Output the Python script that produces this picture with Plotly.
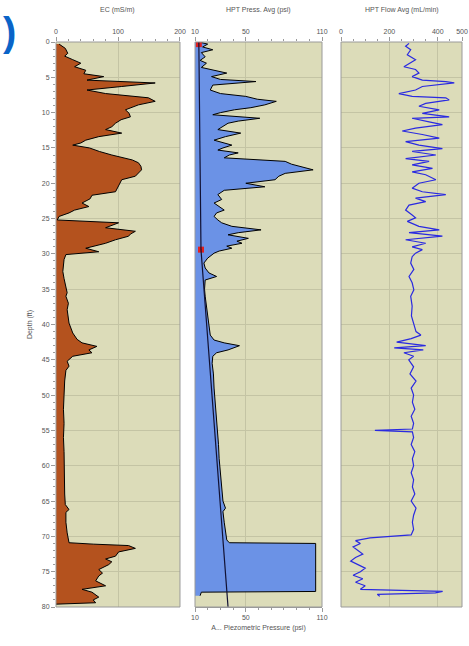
import plotly.graph_objects as go

# ---------------- data ----------------
ec_depth = [0.3, 0.9, 1.6, 2.0, 2.5, 3.0, 3.5, 4.0, 4.5, 4.9, 5.4, 5.8, 6.3, 6.8, 7.3, 7.9, 8.4, 8.9,
            9.6, 10.1, 10.6, 11.0, 11.5, 12.0, 12.4, 12.9, 13.4, 13.9, 14.3, 14.6, 15.0, 15.5, 16.0,
            16.7, 17.1, 17.6, 18.1, 18.6, 19.0, 19.5, 20.3, 20.8, 21.2, 21.7, 22.2, 22.8, 23.3, 23.8,
            24.2, 24.7, 25.2, 25.6, 26.0, 26.3, 26.8, 27.2, 27.5, 28.0, 28.5, 29.2, 29.7, 30.1, 30.8,
            31.5, 32.5, 33.5, 34.5, 35.5, 36.0, 37.0, 37.9, 39.0, 39.8, 40.5, 41.2, 42.1, 42.6, 43.1,
            43.6, 44.0, 44.5, 45.2, 45.9, 46.5, 48.0, 50.0, 52.0, 54.0, 56.0, 58.0, 60.0, 62.4, 64.0,
            65.5, 66.2, 66.6, 68.0, 69.5, 70.5, 70.9, 71.1, 71.3, 71.7, 72.2, 72.8, 73.2, 73.6, 74.0,
            74.7, 75.2, 75.6, 76.3, 77.0, 77.5, 77.9, 78.6, 79.0, 79.4, 79.6]
ec_value = [5, 15, 19, 14, 27, 40, 30, 48, 45, 77, 50, 160, 106, 50, 80, 149, 160, 133,
            112, 118, 120, 105, 96, 90, 80, 106, 69, 48, 40, 27, 54, 70, 90,
            123, 133, 137, 138, 132, 128, 106, 101, 98, 96, 58, 55, 42, 53, 30,
            21, 5, 2, 101, 90, 80, 128, 120, 117, 96, 80, 48, 69, 16, 13,
            12, 11, 13, 15, 18, 16, 20, 18, 20, 21, 24, 27, 34, 42, 66,
            53, 58, 27, 18, 21, 16, 14, 13, 12, 13, 12, 13, 13, 14, 14,
            15, 21, 16, 16, 18, 20, 21, 60, 117, 128, 101, 96, 80, 90, 85,
            69, 75, 69, 64, 80, 42, 58, 69, 60, 64, 0]

pr_depth = [0.0, 0.3, 0.7, 1.1, 1.5, 2.1, 2.6, 3.0, 3.6, 4.4, 4.9, 5.3, 5.6, 6.1, 6.8, 7.3, 7.7, 8.1,
            8.4, 8.9, 9.3, 9.6, 10.0, 10.3, 10.8, 11.2, 11.5, 12.0, 12.4, 12.9, 13.4, 13.9, 14.3,
            14.6, 15.0, 15.3, 15.7, 16.0, 16.4, 16.9, 17.3, 17.6, 18.1, 18.6, 19.0, 19.5, 20.0,
            20.5, 21.0, 21.6, 22.3, 22.8, 23.3, 23.8, 24.2, 24.7, 25.2, 25.6, 26.1, 26.6, 27.0,
            27.3, 27.8, 28.2, 28.5, 28.9, 29.2, 29.6, 29.9, 30.3, 30.6, 31.3, 32.0, 32.7, 33.2,
            33.7, 35.0, 36.0, 37.5, 39.3, 40.5, 41.5, 42.2, 42.6, 43.0, 43.3, 43.6, 44.0, 44.5,
            45.5, 47.0, 49.0, 51.0, 53.0, 55.0, 57.0, 59.0, 61.0, 63.0, 65.0, 66.0, 66.5, 68.0,
            69.5, 70.5, 70.9, 71.0, 77.8, 77.9, 78.4]
pr_value = [13, 20, 16, 24, 15, 18, 14, 19, 15, 35, 23, 30, 58, 24, 22, 30, 50, 59,
            74, 65, 54, 41, 30, 24, 61, 44, 36, 32, 28, 46, 34, 25, 32,
            39, 32, 28, 44, 37, 33, 81, 86, 92, 103, 81, 76, 73, 50,
            65, 33, 28, 31, 25, 29, 33, 27, 25, 28, 31, 39, 62, 44,
            36, 52, 43, 47, 35, 39, 29, 25, 22, 20, 17, 18, 21, 27,
            18, 17.5, 18, 19, 20, 21, 22, 25, 33, 45, 40, 36, 27, 24,
            23.5, 24.5, 25, 26, 27, 27.5, 28.5, 29, 30, 31, 32, 34, 32, 33,
            34, 35, 37, 105, 105, 15, 14]

piezo_depth = [0, 29.4, 80]
piezo_value = [13, 14.7, 36]

mark_depth = [0.3, 29.4]
mark_value = [13, 14.7]

fl_depth = [0.2, 0.6, 1.1, 1.8, 2.5, 3.0, 3.5, 3.9, 4.4, 4.9, 5.4, 5.6, 5.8, 6.3, 6.8, 7.3, 7.7, 7.9,
            8.2, 8.7, 9.1, 9.6, 10.1, 10.6, 10.8, 11.3, 11.7, 12.2, 12.6, 13.1, 13.6, 14.1, 14.6,
            15.1, 15.5, 16.0, 16.5, 16.9, 17.4, 17.9, 18.4, 18.8, 19.5, 20.0, 20.7, 21.2, 21.6,
            22.1, 22.6, 23.1, 23.8, 24.5, 24.9, 25.4, 26.1, 26.6, 27.0, 27.5, 28.0, 28.5, 29.0,
            29.4, 29.9, 30.4, 31.3, 32.2, 33.2, 34.1, 35.1, 36.0, 37.4, 38.8, 40.0, 41.0, 41.5,
            42.0, 42.5, 43.0, 43.3, 43.6, 44.0, 44.5, 45.0, 46.0, 47.0, 48.0, 49.0, 50.0, 51.0,
            52.0, 53.0, 54.0, 54.8, 55.0, 55.2, 56.0, 57.0, 58.0, 59.0, 60.0, 61.0, 62.0, 63.0,
            64.0, 65.0, 66.0, 67.0, 68.0, 69.0, 69.8, 70.2, 70.6, 71.0, 71.5, 72.0, 72.5, 73.0,
            73.5, 74.0, 74.5, 75.0, 75.5, 76.0, 76.5, 77.0, 77.5, 77.8, 78.0, 78.2, 78.5]
fl_value = [281, 267, 288, 274, 308, 281, 260, 308, 322, 294, 336, 433, 468, 336, 308, 239, 294, 433,
            447, 350, 322, 406, 336, 447, 294, 364, 419, 308, 253, 336, 406, 267, 322,
            419, 294, 392, 267, 364, 294, 378, 294, 350, 392, 322, 294, 336, 433,
            308, 350, 281, 267, 294, 308, 274, 322, 406, 281, 419, 267, 350, 294,
            336, 308, 294, 288, 301, 281, 294, 301, 288, 294, 291, 300, 310, 330,
            290, 230, 350, 220, 340, 260, 300, 280, 300, 285, 310, 290, 300, 295,
            305, 290, 300, 295, 140, 295, 300, 290, 305, 295, 300, 290, 300, 295,
            305, 290, 310, 300, 295, 300, 290, 120, 60, 80, 50, 70, 90, 60,
            40, 70, 100, 80, 50, 90, 60, 100, 80, 420, 390, 150, 160]

depth_ticks = list(range(0, 81, 5))

# ---------------- figure ----------------
BG = "#DCDCB9"
GRID = "#C4C4A4"
BORDER = "#9A9A9A"
TXT = "#555555"
FONT = "Liberation Sans"

fig = go.Figure()

fig.add_trace(go.Scatter(x=ec_value, y=ec_depth, xaxis="x", yaxis="y", mode="lines",
                         fill="tozerox", fillcolor="#B4521E",
                         line=dict(color="black", width=1), hoverinfo="skip"))
fig.add_trace(go.Scatter(x=pr_value, y=pr_depth, xaxis="x2", yaxis="y", mode="lines",
                         fill="tozerox", fillcolor="#6B92E6",
                         line=dict(color="black", width=1), hoverinfo="skip"))
fig.add_trace(go.Scatter(x=piezo_value, y=piezo_depth, xaxis="x4", yaxis="y", mode="lines",
                         line=dict(color="#111133", width=1.2), hoverinfo="skip"))
fig.add_trace(go.Scatter(x=mark_value, y=mark_depth, xaxis="x2", yaxis="y", mode="markers",
                         marker=dict(color="#E02020", size=6, symbol="square"), hoverinfo="skip"))
fig.add_trace(go.Scatter(x=fl_value, y=fl_depth, xaxis="x3", yaxis="y", mode="lines",
                         line=dict(color="#2A2AE0", width=1.2), hoverinfo="skip"))

tickfont = dict(family=FONT, size=7, color=TXT)
common_x = dict(side="top", anchor="y", showline=False, ticks="outside", ticklen=4,
                tickcolor=BORDER, tickfont=tickfont, showgrid=True, gridcolor=GRID,
                gridwidth=1, zeroline=False, automargin=False, fixedrange=True)

fig.update_layout(
    width=469, height=646, template="none",
    margin=dict(l=56, r=7, t=42, b=39, autoexpand=False),
    paper_bgcolor="white", plot_bgcolor=BG, showlegend=False,
    font=dict(family=FONT, size=7, color=TXT),
    xaxis=dict(domain=[0, 0.3054], range=[0, 200], tickvals=[0, 100, 200],
               minor=dict(dtick=20, ticks="outside", ticklen=2, tickcolor=BORDER, showgrid=False),
               **common_x),
    xaxis2=dict(domain=[0.3424, 0.6552], range=[10, 110], tickvals=[10, 50, 110],
                minor=dict(dtick=10, tick0=10, ticks="outside", ticklen=2, tickcolor=BORDER, showgrid=False),
                **common_x),
    xaxis3=dict(domain=[0.702, 1.0], range=[0, 500], tickvals=[0, 200, 400, 500],
                minor=dict(dtick=50, ticks="outside", ticklen=2, tickcolor=BORDER, showgrid=False),
                **common_x),
    xaxis4=dict(overlaying="x2", side="bottom", anchor="y", range=[10, 110],
                tickvals=[10, 50, 110], ticks="outside", ticklen=4, tickcolor=BORDER,
                minor=dict(dtick=10, tick0=10, ticks="outside", ticklen=2, tickcolor=BORDER, showgrid=False),
                tickfont=tickfont, showgrid=False, zeroline=False, showline=True,
                linecolor=BORDER, automargin=False, fixedrange=True,
                title=dict(text="A... Piezometric Pressure (psi)", standoff=4,
                           font=dict(family=FONT, size=7, color=TXT))),
    yaxis=dict(domain=[0, 1], range=[80, 0], anchor="x", tickvals=depth_ticks,
               ticks="outside", ticklen=4, tickcolor=BORDER, tickfont=tickfont,
               minor=dict(dtick=1, ticks="outside", ticklen=2, tickcolor=BORDER, showgrid=False),
               showgrid=True, gridcolor=GRID, zeroline=False, showline=False,
               automargin=False, fixedrange=True,
               title=dict(text="Depth (ft)", standoff=8, font=dict(family=FONT, size=7, color=TXT))),
)

# panel borders
for ax in ["x", "x2", "x3"]:
    fig.add_shape(type="rect", xref=f"{ax} domain", yref="y domain", x0=0, x1=1, y0=0, y1=1,
                  line=dict(color=BORDER, width=1), fillcolor="rgba(0,0,0,0)", layer="above")

# top titles
titles = [("x", "EC (mS/m)"), ("x2", "HPT Press. Avg (psi)"), ("x3", "HPT Flow Avg (mL/min)")]
for ax, t in titles:
    fig.add_annotation(xref=f"{ax} domain", yref="paper", x=0.5, y=1.0566, text=t,
                       showarrow=False, font=dict(family=FONT, size=7, color=TXT),
                       xanchor="center", yanchor="middle")

# panel label (only the closing bracket is visible in the reference)
fig.add_annotation(xref="paper", yref="paper", x=(1 - 56) / 406, y=(607 - 32) / 565,
                   text="<b>)</b>", showarrow=False, xanchor="left", yanchor="middle",
                   font=dict(family=FONT, size=40, color="#0A64C8"))

fig.write_html("out.html")
